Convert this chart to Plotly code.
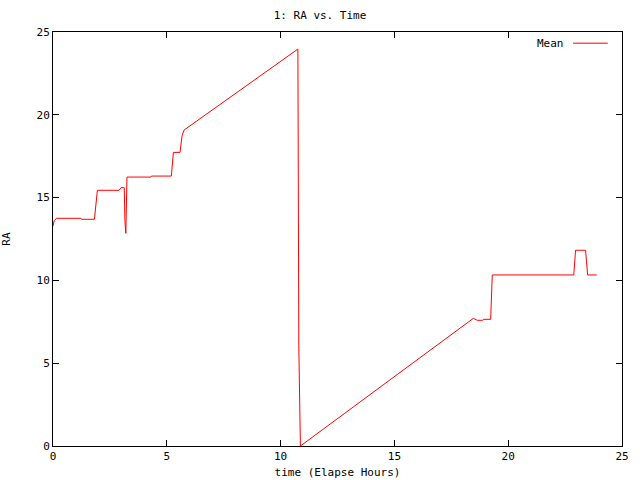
import plotly.graph_objects as go

# Elapsed time (hours) and mean RA readings
time_hours = [0.0, 0.05, 0.15, 1.22, 1.25, 1.82, 1.95, 2.90, 2.99, 3.13, 3.16, 3.20, 3.25,
              4.30, 4.33, 5.20, 5.29, 5.58, 5.67, 5.76, 10.76, 10.78, 10.80, 10.87,
              14.75, 18.47, 18.64, 18.88, 18.92, 19.23, 19.30, 22.88, 22.96, 23.40,
              23.49, 23.89]
ra_mean = [13.28, 13.60, 13.75, 13.75, 13.69, 13.69, 15.44, 15.44, 15.60, 15.60, 13.60, 12.84, 16.24,
           16.24, 16.30, 16.30, 17.73, 17.73, 18.74, 19.08, 23.97, 18.00, 6.06, 0.0,
           3.93, 7.71, 7.59, 7.59, 7.65, 7.65, 10.33, 10.33, 11.82, 11.82,
           10.33, 10.33]

series_name = "Mean"
title_text = "1: RA vs. Time"
x_title = "time (Elapse Hours)"
y_title = "RA"
tick_vals = [0, 5, 10, 15, 20, 25]

FONT = "DejaVu Sans Mono"

fig = go.Figure()
fig.add_trace(go.Scatter(x=time_hours, y=ra_mean, mode="lines", name=series_name,
                         line=dict(color="#ff0000", width=1), showlegend=False))

axis_common = dict(range=[0, 25], tickvals=tick_vals, ticks="inside", ticklen=6,
                   tickcolor="black", tickwidth=1, showline=True, linecolor="black",
                   linewidth=1, mirror="ticks", showgrid=False, zeroline=False,
                   automargin=False,
                   tickfont=dict(family=FONT, size=11, color="black"))

fig.update_layout(
    width=640, height=480,
    margin=dict(l=53, r=18, t=32, b=34, pad=0),
    paper_bgcolor="white", plot_bgcolor="white",
    title=dict(text=title_text, x=0.5, xanchor="center", y=1 - 15 / 480, yanchor="middle",
               font=dict(family=FONT, size=11, color="black")),
    xaxis=dict(title=dict(text=x_title, font=dict(family=FONT, size=11, color="black"), standoff=6),
               **axis_common),
    yaxis=dict(title=dict(text=y_title, font=dict(family=FONT, size=11, color="black"), standoff=25),
               **axis_common),
)

# gnuplot-style key: label on the left, line sample on the right
fig.add_annotation(xref="paper", yref="paper", x=0.9016, y=0.973, text=series_name,
                   showarrow=False, xanchor="right", yanchor="middle",
                   font=dict(family=FONT, size=11, color="black"))
fig.add_shape(type="line", xref="paper", yref="paper", x0=0.914, x1=0.975, y0=0.973, y1=0.973,
              line=dict(color="#ff0000", width=1))

fig.write_html("out.html", config={"displayModeBar": False},
               post_script="document.body.style.margin='0';")
